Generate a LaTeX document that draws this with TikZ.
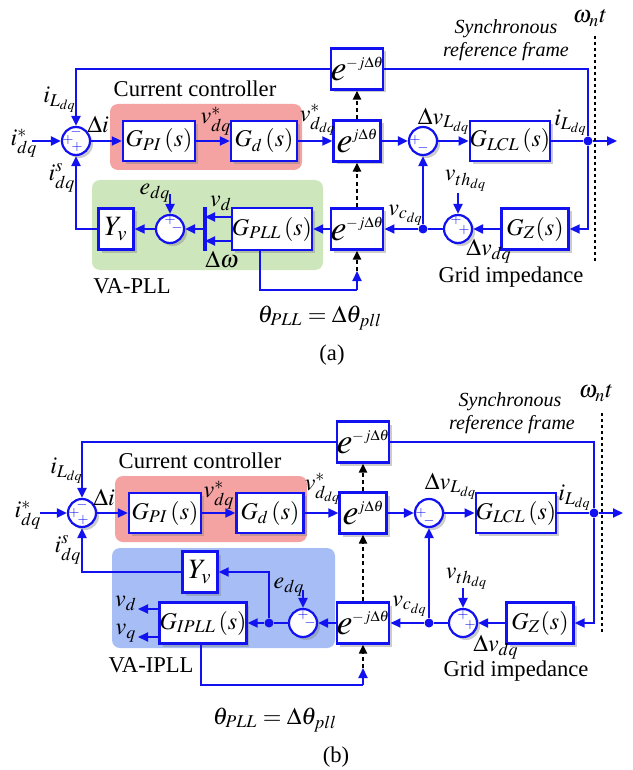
\documentclass[tikz,border=0pt]{standalone}
\usepackage{mathptmx}
\usepackage[no-math]{fontspec}
\setmainfont{Liberation Serif}
\usetikzlibrary{arrows.meta,shadows,calc}
\definecolor{lb}{RGB}{18,18,240}
\definecolor{redbg}{RGB}{244,162,162}
\definecolor{greenbg}{RGB}{206,230,188}
\definecolor{bluebg}{RGB}{166,189,246}
\tikzset{
 shd/.style={drop shadow={opacity=0.4,shadow xshift=1.5pt,shadow yshift=-1.5pt}},
 blk/.style={draw=lb, line width=1.2pt, fill=white, shd, inner sep=0pt, font=\fontsize{12}{14}\selectfont},
 eblk/.style={blk, minimum width=23.5pt, minimum height=20.5pt},
 sumc/.style={circle, draw=lb, line width=1.1pt, fill=white, minimum size=14pt, inner sep=0pt, shd},
 wire/.style={draw=lb, line width=1pt},
 arr/.style={wire, -{Triangle[length=5pt,width=4.5pt]}},
 dsh/.style={draw=black, line width=1.1pt, dash pattern=on 2pt off 1.6pt, -{Triangle[length=4.5pt,width=4pt]}},
 dotl/.style={draw=black, line width=1.2pt, dash pattern=on 1.5pt off 1.5pt},
 jdot/.style={circle, fill=lb, minimum size=4.5pt, inner sep=0pt},
 lab/.style={inner sep=0pt, font=\fontsize{12}{14}\selectfont},
 txt/.style={inner sep=0pt, font=\fontsize{11.3}{13}\selectfont},
 itx/.style={inner sep=0pt, font=\fontsize{10}{12}\selectfont\itshape},
 sg/.style={inner sep=0pt, text=lb, font=\fontsize{7}{7}\selectfont, text height=3pt, text depth=0pt},
}
\newcommand\sgnat[3]{\node[sg] at ($(#1)+(#2)$) {$#3$};}
\newcommand\expo[1]{{\fontsize{18}{18}\selectfont$e$}\kern-0.3pt{\fontsize{7.5}{8}\selectfont\raisebox{6.2pt}{$#1$}}}
\begin{document}
\begin{tikzpicture}[x=0.5pt,y=-0.5pt]
\useasboundingbox (0,0) rectangle (632,770);
%================ (a) =================
\fill[redbg, rounded corners=4pt] (110,104) rectangle (302,170);
\fill[greenbg, rounded corners=4pt] (92,180) rectangle (323,270);

\node[sumc] (aS1) at (76,141) {};
\node[blk, minimum width=36pt, minimum height=20pt] (aGPI) at (159,141) {$G_{PI}\left(s\right)$};
\node[blk, minimum width=33pt, minimum height=20pt] (aGd) at (264,141) {$G_{d}\left(s\right)$};
\node[eblk] (aEt) at (357,69) {\expo{-j\Delta\theta}};
\node[eblk] (aEm) at (357,141) {\expo{j\Delta\theta}};
\node[eblk] (aEb) at (357,229) {\expo{-j\Delta\theta}};
\node[sumc] (aS2) at (423,141) {};
\node[blk, minimum width=38pt, minimum height=20pt] (aGL) at (510,141) {$G_{LCL}\left(s\right)$};
\node[jdot] (aD1) at (588,141) {};
\node[blk, minimum width=33.5pt, minimum height=20.5pt] (aGZ) at (535,229) {$G_{Z}(s)$};
\node[sumc] (aS3) at (458,229) {};
\node[jdot] (aD2) at (423,229) {};
\node[blk, minimum width=39.5pt, minimum height=21pt] (aGP) at (272,229) {$G_{PLL}\left(s\right)$};
\node[sumc] (aS4) at (170,229) {};
\node[blk, minimum width=17.5pt, minimum height=20.5pt, font=\fontsize{14}{15}\selectfont] (aYv) at (116,229) {$Y_{v}$};

\coordinate (aIn) at (32,141);
\coordinate (aOut) at (617,141);
\coordinate (aBm) at (205,229);
\coordinate (aBt) at (205,207);
\coordinate (aBb) at (205,251);
\coordinate (aEin) at (170,194);
\coordinate (aVin) at (458,193);
\coordinate (aThC) at (357,290);
\coordinate (aTh) at (357,271);
\coordinate (aDt) at (595,36);
\coordinate (aDb) at (595,262);

\draw[arr] (aIn) -- (aS1);
\draw[arr] (aS1) -- (aGPI);
\draw[arr] (aGPI) -- (aGd);
\draw[arr] (aGd) -- (aEm);
\draw[arr] (aEm) -- (aS2);
\draw[arr] (aS2) -- (aGL);
\draw[wire] (aGL) -- (aD1);
\draw[arr] (aD1) -- (aOut);
\draw[wire] (aD1) |- (aEt.east);
\draw[arr] (aEt.west) -| (aS1.north);
\draw[arr] (aD1) |- (aGZ.east);
\draw[arr] (aGZ) -- (aS3);
\draw[wire] (aS3) -- (aD2);
\draw[arr] (aD2) -- (aS2.south);
\draw[arr] (aD2) -- (aEb);
\draw[arr] (aEb) -- (aGP);
\draw[arr] ([yshift=6pt]aGP.west) -- ([yshift=6pt]aGP.west -| aBm);
\draw[arr] ([yshift=-6pt]aGP.west) -- ([yshift=-6pt]aGP.west -| aBm);
\draw[wire, line width=2pt] (aBt) -- (aBb);
\draw[arr] (aBm) -- (aS4);
\draw[arr] (aEin) -- (aS4);
\draw[arr] (aS4) -- (aYv);
\draw[arr] (aYv.west) -| (aS1.south);
\draw[arr] (aVin) -- (aS3);
\draw[wire] ([xshift=-6pt]aGP.south) |- (aThC);
\draw[arr] (aThC) -- (aTh);
\draw[dsh] (aTh) -- (aEb.south);
\draw[dsh] (aEb.north) -- (aEm.south);
\draw[dsh] (aEm.north) -- (aEt.south);
\draw[dotl] (aDt) -- (aDb);

\sgnat{aS1}{0,-8}{-}\sgnat{aS1}{-8,0}{+}\sgnat{aS1}{1,7}{+}
\sgnat{aS2}{-8,0}{+}\sgnat{aS2}{0,8}{-}
\sgnat{aS3}{-2,-8}{+}\sgnat{aS3}{6,2}{+}
\sgnat{aS4}{0,-8}{+}\sgnat{aS4}{7,0}{-}

\node[lab] (aL1) at (24,143) {$i_{dq}^{*}$};
\node[lab] (aL2) at (60,100) {$i_{L_{dq}}$};
\node[lab] (aL3) at (98,124) {$\Delta i$};
\node[txt] (aL4) at (195,89) {Current controller};
\node[lab] (aL5) at (216,121) {$v_{dq}^{*}$};
\node[lab] (aL6) at (318,120) {$v_{d_{dq}}^{*}$};
\node[lab] (aL7) at (444,121) {$\Delta v_{L_{dq}}$};
\node[lab] (aL8) at (571,123) {$i_{L_{dq}}$};
\node[lab] (aL9) at (590,18) {$\omega_{n}t$};
\node[itx] (aL10) at (506,29) {Synchronous};
\node[itx] (aL11) at (506,52) {reference frame};
\node[lab] (aL12) at (466,181) {$v_{th_{dq}}$};
\node[lab] (aL13) at (489,251) {$\Delta v_{dq}$};
\node[txt] (aL14) at (511,277) {Grid impedance};
\node[lab] (aL15) at (406,215) {$v_{c_{dq}}$};
\node[lab] (aL16) at (221,203) {$v_{d}$};
\node[lab] (aL17) at (222,260) {$\Delta\omega$};
\node[lab] (aL18) at (155,193) {$e_{dq}$};
\node[lab] (aL19) at (62,178) {$i_{dq}^{s}$};
\node[txt] (aL20) at (132,286) {VA-PLL};
\node[lab] (aL21) at (320,318) {$\theta_{PLL}=\Delta\theta_{pll}$};
\node[txt] (aL22) at (332,355) {(a)};

%================ (b) =================
\fill[redbg, rounded corners=4pt] (115,476) rectangle (307,542);
\fill[bluebg, rounded corners=4pt] (112,548) rectangle (335,648);

\node[sumc] (bS1) at (82,513) {};
\node[blk, minimum width=36pt, minimum height=20pt] (bGPI) at (165,513) {$G_{PI}\left(s\right)$};
\node[blk, minimum width=33.5pt, minimum height=20pt] (bGd) at (270,513) {$G_{d}\left(s\right)$};
\node[eblk] (bEt) at (363,442) {\expo{-j\Delta\theta}};
\node[eblk] (bEm) at (363,513) {\expo{j\Delta\theta}};
\node[eblk] (bEb) at (363,623) {\expo{-j\Delta\theta}};
\node[sumc] (bS2) at (429,513) {};
\node[blk, minimum width=39pt, minimum height=20pt] (bGL) at (516,513) {$G_{LCL}\left(s\right)$};
\node[jdot] (bD1) at (594,513) {};
\node[blk, minimum width=33.5pt, minimum height=20.5pt] (bGZ) at (540,623) {$G_{Z}(s)$};
\node[sumc] (bS3) at (463,623) {};
\node[jdot] (bD2) at (429,623) {};
\node[sumc] (bS4) at (303,623) {};
\node[jdot] (bD3) at (269,623) {};
\node[blk, minimum width=40.5pt, minimum height=20.5pt] (bGI) at (203,623) {$G_{IPLL}\left(s\right)$};
\node[blk, minimum width=17.5pt, minimum height=20.5pt, font=\fontsize{14}{15}\selectfont] (bYv) at (200,572) {$Y_{v}$};

\coordinate (bIn) at (40,513);
\coordinate (bOut) at (623,513);
\coordinate (bEin) at (303,590);
\coordinate (bVin) at (463,588);
\coordinate (bThC) at (363,685);
\coordinate (bTh) at (363,668);
\coordinate (bDt) at (602,413);
\coordinate (bDb) at (602,633);
\coordinate (bVd) at (138,609);
\coordinate (bVq) at (138,637);

\draw[arr] (bIn) -- (bS1);
\draw[arr] (bS1) -- (bGPI);
\draw[arr] (bGPI) -- (bGd);
\draw[arr] (bGd) -- (bEm);
\draw[arr] (bEm) -- (bS2);
\draw[arr] (bS2) -- (bGL);
\draw[wire] (bGL) -- (bD1);
\draw[arr] (bD1) -- (bOut);
\draw[wire] (bD1) |- (bEt.east);
\draw[arr] (bEt.west) -| (bS1.north);
\draw[arr] (bD1) |- (bGZ.east);
\draw[arr] (bGZ) -- (bS3);
\draw[wire] (bS3) -- (bD2);
\draw[arr] (bD2) -- (bS2.south);
\draw[arr] (bD2) -- (bEb);
\draw[arr] (bEb) -- (bS4);
\draw[wire] (bS4) -- (bD3);
\draw[arr] (bD3) -- (bGI);
\draw[arr] (bD3) |- (bYv.east);
\draw[arr] (bYv.west) -| (bS1.south);
\draw[arr] ([yshift=7pt]bGI.west) -- (bVd);
\draw[arr] ([yshift=-7pt]bGI.west) -- (bVq);
\draw[arr] (bEin) -- (bS4);
\draw[arr] (bVin) -- (bS3);
\draw[wire] ([xshift=-1pt]bGI.south) |- (bThC);
\draw[arr] (bThC) -- (bTh);
\draw[dsh] (bTh) -- (bEb.south);
\draw[dsh] (bEb.north) -- (bEm.south);
\draw[dsh] (bEm.north) -- (bEt.south);
\draw[dotl] (bDt) -- (bDb);

\sgnat{bS1}{0,-8}{-}\sgnat{bS1}{-8,0}{+}\sgnat{bS1}{1,7}{+}
\sgnat{bS2}{-8,0}{+}\sgnat{bS2}{0,8}{-}
\sgnat{bS3}{0,-8}{+}\sgnat{bS3}{7,2}{+}
\sgnat{bS4}{0,-8}{+}\sgnat{bS4}{7,0}{-}

\node[lab] (bL1) at (28,515) {$i_{dq}^{*}$};
\node[lab] (bL2) at (67,471) {$i_{L_{dq}}$};
\node[lab] (bL3) at (104,497) {$\Delta i$};
\node[txt] (bL4) at (200,461) {Current controller};
\node[lab] (bL5) at (219,495) {$v_{dq}^{*}$};
\node[lab] (bL6) at (323,489) {$v_{d_{dq}}^{*}$};
\node[lab] (bL7) at (451,486) {$\Delta v_{L_{dq}}$};
\node[lab] (bL8) at (575,498) {$i_{L_{dq}}$};
\node[lab] (bL9) at (596,393) {$\omega_{n}t$};
\node[itx] (bL10) at (510,402) {Synchronous};
\node[itx] (bL11) at (512,425) {reference frame};
\node[lab] (bL12) at (467,579) {$v_{th_{dq}}$};
\node[lab] (bL13) at (496,647) {$\Delta v_{dq}$};
\node[txt] (bL14) at (516,671) {Grid impedance};
\node[lab] (bL15) at (410,606) {$v_{c_{dq}}$};
\node[lab] (bL16) at (289,587) {$e_{dq}$};
\node[lab] (bL17) at (68,550) {$i_{dq}^{s}$};
\node[lab] (bL18) at (126,603) {$v_{d}$};
\node[lab] (bL19) at (126,633) {$v_{q}$};
\node[txt] (bL20) at (151,665) {VA-IPLL};
\node[lab] (bL21) at (275,720) {$\theta_{PLL}=\Delta\theta_{pll}$};
\node[txt] (bL22) at (336,757) {(b)};
\end{tikzpicture}
\end{document}
